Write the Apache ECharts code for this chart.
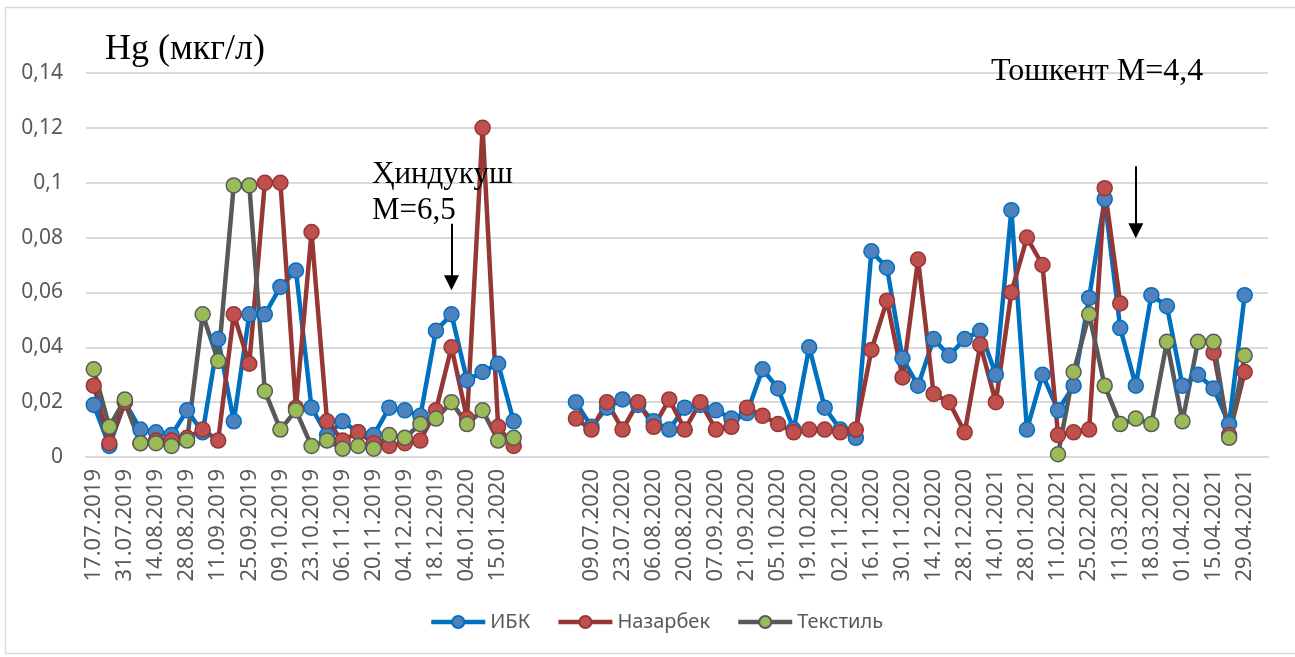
<!DOCTYPE html>
<html>
<head>
<meta charset="utf-8">
<script src="https://cdn.jsdelivr.net/npm/echarts@6/dist/echarts.min.js"></script>
<style>
  html, body { margin: 0; padding: 0; background: #fff; }
  #chart { width: 1295px; height: 657px; }
</style>
</head>
<body>
<div id="chart"></div>
<script>
// categories: every second one is shown on the axis, blanks make the gap between campaigns
const dates = [
	'17.07.2019', '24.07.2019', '31.07.2019', '07.08.2019', '14.08.2019', '21.08.2019',
	'28.08.2019', '04.09.2019', '11.09.2019', '18.09.2019', '25.09.2019', '02.10.2019',
	'09.10.2019', '16.10.2019', '23.10.2019', '30.10.2019', '06.11.2019', '13.11.2019',
	'20.11.2019', '27.11.2019', '04.12.2019', '11.12.2019', '18.12.2019', '25.12.2019',
	'04.01.2020', '08.01.2020', '15.01.2020', '22.01.2020', '', ' ', '  ', '02.07.2020',
	'09.07.2020', '16.07.2020', '23.07.2020', '30.07.2020', '06.08.2020', '13.08.2020',
	'20.08.2020', '27.08.2020', '07.09.2020', '14.09.2020', '21.09.2020', '28.09.2020',
	'05.10.2020', '12.10.2020', '19.10.2020', '26.10.2020', '02.11.2020', '09.11.2020',
	'16.11.2020', '23.11.2020', '30.11.2020', '07.12.2020', '14.12.2020', '21.12.2020',
	'28.12.2020', '07.01.2021', '14.01.2021', '21.01.2021', '28.01.2021', '04.02.2021',
	'11.02.2021', '18.02.2021', '25.02.2021', '04.03.2021', '11.03.2021', '15.03.2021',
	'18.03.2021', '25.03.2021', '01.04.2021', '08.04.2021', '15.04.2021', '22.04.2021',
	'29.04.2021', '   '
]

const ibk = [
	0.019, 0.004, 0.020, 0.010, 0.009, 0.008, 0.017, 0.009, 0.043, 0.013,
	0.052, 0.052, 0.062, 0.068, 0.018, 0.008, 0.013, 0.009, 0.008, 0.018,
	0.017, 0.015, 0.046, 0.052, 0.028, 0.031, 0.034, 0.013, null, null,
	null, 0.020, 0.011, 0.018, 0.021, 0.019, 0.013, 0.010, 0.018, 0.019,
	0.017, 0.014, 0.016, 0.032, 0.025, 0.010, 0.040, 0.018, 0.010, 0.007,
	0.075, 0.069, 0.036, 0.026, 0.043, 0.037, 0.043, 0.046, 0.030, 0.090,
	0.010, 0.030, 0.017, 0.026, 0.058, 0.094, 0.047, 0.026, 0.059, 0.055,
	0.026, 0.030, 0.025, 0.012, 0.059, null
]

const nazarbek = [
	0.026, 0.005, 0.020, 0.005, 0.006, 0.006, 0.007, 0.010, 0.006, 0.052,
	0.034, 0.100, 0.100, 0.018, 0.082, 0.013, 0.006, 0.009, 0.005, 0.004,
	0.005, 0.006, 0.017, 0.040, 0.014, 0.120, 0.011, 0.004, null, null,
	null, 0.014, 0.010, 0.020, 0.010, 0.020, 0.011, 0.021, 0.010, 0.020,
	0.010, 0.011, 0.018, 0.015, 0.012, 0.009, 0.010, 0.010, 0.009, 0.010,
	0.039, 0.057, 0.029, 0.072, 0.023, 0.020, 0.009, 0.041, 0.020, 0.060,
	0.080, 0.070, 0.008, 0.009, 0.010, 0.098, 0.056, null, null, null,
	null, null, 0.038, 0.008, 0.031, null
]

const tekstil = [
	0.032, 0.011, 0.021, 0.005, 0.005, 0.004, 0.006, 0.052, 0.035, 0.099,
	0.099, 0.024, 0.010, 0.017, 0.004, 0.006, 0.003, 0.004, 0.003, 0.008,
	0.007, 0.012, 0.014, 0.020, 0.012, 0.017, 0.006, 0.007, null, null,
	null, null, null, null, null, null, null, null, null, null,
	null, null, null, null, null, null, null, null, null, null,
	null, null, null, null, null, null, null, null, null, null,
	null, null, 0.001, 0.031, 0.052, 0.026, 0.012, 0.014, 0.012, 0.042,
	0.013, 0.042, 0.042, 0.007, 0.037, null
]

// arrows: [category index, top value, tip value]
const arrows = [
	[23, 0.085, 0.0635],
	[67, 0.106, 0.0825],
]

const serif = '"Liberation Serif", "Times New Roman", serif'
const sans = '"Noto Sans", "Open Sans", sans-serif'
const gray = '#595959'

const chart = echarts.init(document.getElementById('chart'))

function lineSeries(name, data, lineColor, fillColor) {
	return {
		name: name,
		type: 'line',
		data: data,
		connectNulls: false,
		showAllSymbol: true,
		symbol: 'circle',
		symbolSize: 15,
		lineStyle: { color: lineColor, width: 4.5 },
		itemStyle: { color: fillColor, borderColor: lineColor, borderWidth: 1.5 },
		emphasis: { disabled: true },
	}
}

const series = [
	lineSeries('ИБК', ibk, '#0070c0', '#4f81bd'),
	lineSeries('Назарбек', nazarbek, '#953735', '#c0504d'),
	lineSeries('Текстиль', tekstil, '#595959', '#9bbb59'),
]

series[0].markLine = {
	silent: true,
	animation: false,
	symbol: ['none', 'triangle'],
	symbolSize: [15, 15],
	label: { show: false },
	lineStyle: { color: '#000', width: 2, type: 'solid' },
	data: arrows.map((a) => [{ coord: [a[0], a[1]] }, { coord: [a[0], a[2]] }]),
}

const option = {
	animation: false,
	backgroundColor: '#fff',
	grid: { left: 86, right: 27, top: 73, bottom: 200 },
	xAxis: {
		type: 'category',
		data: dates,
		boundaryGap: true,
		axisLine: { show: true, lineStyle: { color: '#d9d9d9', width: 2 } },
		axisTick: { show: false },
		axisLabel: {
			interval: 1,
			rotate: 90,
			margin: 12,
			color: gray,
			fontSize: 22,
			fontFamily: sans,
		},
	},
	yAxis: {
		type: 'value',
		min: 0,
		max: 0.14,
		interval: 0.02,
		axisLine: { show: false },
		axisTick: { show: false },
		splitLine: { lineStyle: { color: '#d9d9d9', width: 2 } },
		axisLabel: {
			margin: 23,
			color: gray,
			fontSize: 21,
			fontFamily: sans,
			formatter: (v) => String(+v.toFixed(2)).replace('.', ','),
		},
	},
	legend: {
		left: 429,
		top: 612,
		padding: 0,
		itemWidth: 54,
		itemHeight: 15,
		itemGap: 26,
		lineStyle: { width: 4.5 },
		textStyle: { color: gray, fontSize: 20, fontFamily: sans },
		data: ['ИБК', 'Назарбек', 'Текстиль'],
	},
	graphic: [
		{
			type: 'rect',
			silent: true,
			shape: { x: 5.5, y: 7.5, width: 1300, height: 646 },
			style: { fill: null, stroke: '#d9d9d9', lineWidth: 1.5 },
		},
		{
			type: 'text',
			left: 105,
			top: 32,
			z: 100,
			style: { text: 'Hg (мкг/л)', font: '36px ' + serif, fill: '#000' },
		},
		{
			type: 'text',
			left: 372,
			top: 157,
			z: 100,
			style: { text: 'Ҳиндукуш\nМ=6,5', font: '31px ' + serif, lineHeight: 36, fill: '#000' },
		},
		{
			type: 'text',
			left: 991,
			top: 56,
			z: 100,
			style: { text: 'Тошкент М=4,4', font: '32px ' + serif, fill: '#000' },
		},
	],
	series: series,
}

chart.setOption(option)
</script>
</body>
</html>
